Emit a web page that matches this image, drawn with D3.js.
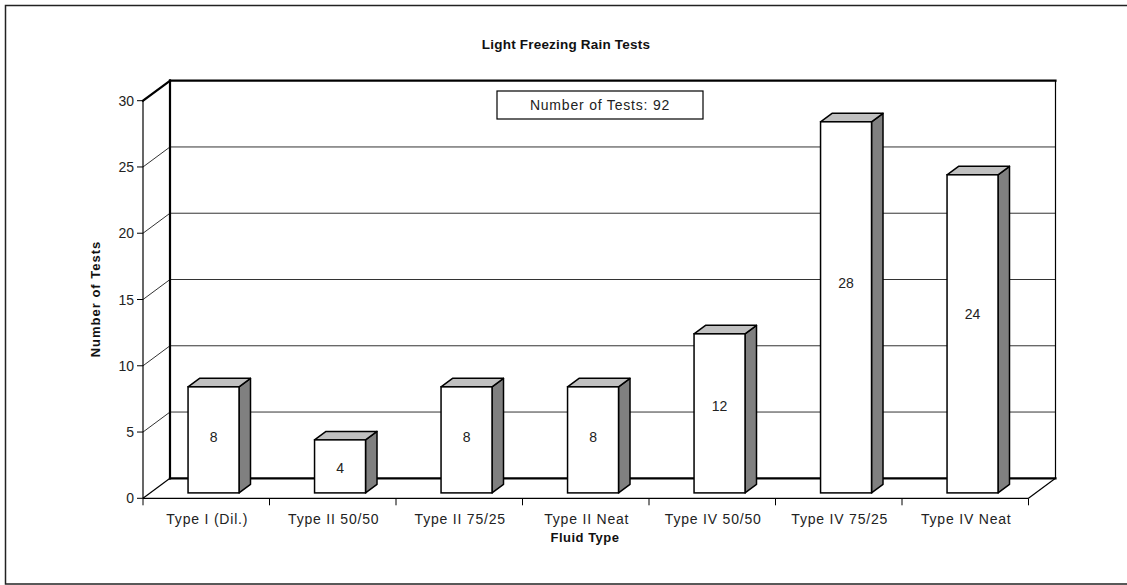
<!DOCTYPE html>
<html lang="en">
<head>
<meta charset="UTF-8">
<title>Light Freezing Rain Tests</title>
<script src="https://d3js.org/d3.v7.min.js"></script>
<style>
    body { margin: 0; padding: 0; background: #fff; }
    svg { display: block; font-family: 'Liberation Sans', Arial, sans-serif; }
    .lbl { font-size: 14px; fill: #222; letter-spacing: 0.8px; }
    .tick-lbl { font-size: 14px; fill: #222; }
    .bold { font-weight: bold; font-size: 13px; fill: #111; }
</style>
</head>
<body>
<svg width="1127" height="585"></svg>
<script>
const categories = ["Type I (Dil.)", "Type II 50/50", "Type II 75/25", "Type II Neat",
                    "Type IV 50/50", "Type IV 75/25", "Type IV Neat"];
const testCounts = [8, 4, 8, 8, 12, 28, 24];
const yTicks = [0, 5, 10, 15, 20, 25, 30];
const totalTests = 92;

const svg = d3.select("svg");

// 3d depth of the plot box
const depthX = 27, depthY = -20;
const barFront = 0.27, barBack = 0.695;

const x = d3.scaleBand()
    .domain(categories)
    .range([143, 1028.5])
    .paddingInner(0)
    .paddingOuter(0);

const y = d3.scaleLinear()
    .domain([0, 30])
    .range([498.3, 100.7]);

const bw = x.bandwidth();
const barW = bw * 0.403;

// outer frame
svg.append("rect")
    .attr("x", 5.5).attr("y", 5.5)
    .attr("width", 1130).attr("height", 578.5)
    .attr("fill", "none")
    .attr("stroke", "#222")
    .attr("stroke-width", 1.5);

// title
svg.append("text")
    .attr("class", "bold")
    .attr("x", 566).attr("y", 49)
    .attr("text-anchor", "middle")
    .style("font-size", "13.5px")
    .style("letter-spacing", "0.2px")
    .text("Light Freezing Rain Tests");

const left = x.range()[0], right = x.range()[1];
const bx0 = left + depthX, bx1 = right + depthX;

// gridlines on back wall and left wall
yTicks.filter(v => v > 0 && v < 30).forEach(function(v) {
    svg.append("line")
        .attr("x1", left).attr("y1", y(v))
        .attr("x2", bx0).attr("y2", y(v) + depthY)
        .attr("stroke", "#333").attr("stroke-width", 1);
    svg.append("line")
        .attr("x1", bx0).attr("y1", y(v) + depthY)
        .attr("x2", bx1).attr("y2", y(v) + depthY)
        .attr("stroke", "#333").attr("stroke-width", 1);
});

// box edges
const thick = [
    [bx0, y(30) + depthY, bx1, y(30) + depthY],
    [bx0, y(30) + depthY, bx0, y(0) + depthY],
    [bx0, y(0) + depthY, bx1, y(0) + depthY],
    [left, y(30), bx0, y(30) + depthY]
];
thick.forEach(function(l) {
    svg.append("line")
        .attr("x1", l[0]).attr("y1", l[1]).attr("x2", l[2]).attr("y2", l[3])
        .attr("stroke", "#000").attr("stroke-width", 2.2)
        .attr("stroke-linecap", "square");
});

const thin = [
    [bx1, y(30) + depthY, bx1, y(0) + depthY],
    [left, y(0), bx0, y(0) + depthY],
    [right, y(0), bx1, y(0) + depthY],
    [left, y(0), right, y(0)],
    [left, y(30), left, y(0)]
];
thin.forEach(function(l) {
    svg.append("line")
        .attr("x1", l[0]).attr("y1", l[1]).attr("x2", l[2]).attr("y2", l[3])
        .attr("stroke", "#000").attr("stroke-width", 1.2);
});

// y ticks
yTicks.forEach(function(v) {
    svg.append("line")
        .attr("x1", left - 6).attr("y1", y(v))
        .attr("x2", left).attr("y2", y(v))
        .attr("stroke", "#000");
    svg.append("text")
        .attr("class", "tick-lbl")
        .attr("x", left - 9).attr("y", y(v) + 5)
        .attr("text-anchor", "end")
        .text(v);
});

// x ticks
const xTickPos = categories.map(c => x(c)).concat([right]);
xTickPos.forEach(function(px) {
    svg.append("line")
        .attr("x1", px).attr("y1", y(0))
        .attr("x2", px).attr("y2", y(0) + 7)
        .attr("stroke", "#000");
});

svg.selectAll(".cat-label")
    .data(categories)
    .enter()
    .append("text")
    .attr("class", "lbl")
    .attr("x", function(d) { return x(d) + bw / 2 + 1; })
    .attr("y", 524)
    .attr("text-anchor", "middle")
    .text(function(d) { return d; });

// bars
const bars = categories.map(function(c, i) { return { cat: c, val: testCounts[i] }; });

bars.forEach(function(d) {
    const cx = x(d.cat) + bw / 2;
    const fx = cx - barW / 2 + barFront * depthX;
    const fy0 = y(0) + barFront * depthY;
    const fy1 = y(d.val) + barFront * depthY;
    const ox = (barBack - barFront) * depthX;
    const oy = (barBack - barFront) * depthY;

    // side
    svg.append("path")
        .attr("d", `M${fx + barW},${fy1} L${fx + barW + ox},${fy1 + oy} L${fx + barW + ox},${fy0 + oy} L${fx + barW},${fy0} Z`)
        .attr("fill", "#808080").attr("stroke", "#000").attr("stroke-width", 1.5)
        .attr("stroke-linejoin", "round");
    // top
    svg.append("path")
        .attr("d", `M${fx},${fy1} L${fx + ox},${fy1 + oy} L${fx + barW + ox},${fy1 + oy} L${fx + barW},${fy1} Z`)
        .attr("fill", "#c0c0c0").attr("stroke", "#000").attr("stroke-width", 1.5)
        .attr("stroke-linejoin", "round");
    // front
    svg.append("rect")
        .attr("x", fx).attr("y", fy1)
        .attr("width", barW).attr("height", fy0 - fy1)
        .attr("fill", "#fff").attr("stroke", "#000").attr("stroke-width", 1.5);

    svg.append("text")
        .attr("class", "tick-lbl")
        .attr("x", fx + barW / 2)
        .attr("y", y(d.val * 0.58) + 5)
        .attr("text-anchor", "middle")
        .text(d.val);
});

// total box
svg.append("rect")
    .attr("x", 497).attr("y", 91)
    .attr("width", 206).attr("height", 28)
    .attr("fill", "#fff").attr("stroke", "#000").attr("stroke-width", 1.2);
svg.append("text")
    .attr("class", "lbl")
    .attr("x", 600).attr("y", 110)
    .attr("text-anchor", "middle")
    .text("Number of Tests: " + totalTests);

// axis titles
svg.append("text")
    .attr("class", "bold")
    .attr("x", 585).attr("y", 542)
    .attr("text-anchor", "middle")
    .style("letter-spacing", "0.5px")
    .text("Fluid Type");

svg.append("text")
    .attr("class", "bold")
    .attr("transform", "translate(100,299) rotate(-90)")
    .attr("text-anchor", "middle")
    .style("letter-spacing", "1px")
    .text("Number of Tests");
</script>
</body>
</html>
